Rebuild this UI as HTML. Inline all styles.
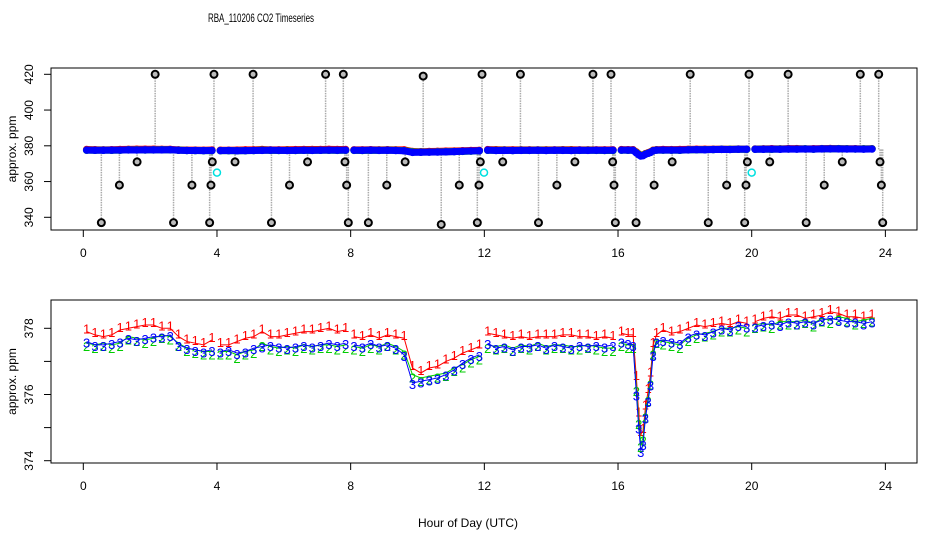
<!DOCTYPE html>
<html><head><meta charset="utf-8"><style>
html,body{margin:0;padding:0;background:#fff;}
svg{display:block;font-family:"Liberation Sans",sans-serif;}
</style></head><body>
<svg id="chart" width="936" height="540" viewBox="0 0 936 540" xmlns="http://www.w3.org/2000/svg">
<text x="261" y="22" text-anchor="middle" font-size="12" textLength="106" lengthAdjust="spacingAndGlyphs">RBA_110206  CO2 Timeseries</text>
<text x="468" y="527" text-anchor="middle" font-size="12">Hour of Day (UTC)</text>
<g id="topPanel"></g>
<g id="botPanel"></g>
</svg>
<script>
const hours = [0.1,0.35,0.6,0.85,1.1,1.35,1.6,1.85,2.1,2.35,2.6,2.85,3.1,3.35,3.6,3.85,
4.1,4.35,4.6,4.85,5.1,5.35,5.6,5.85,6.1,6.35,6.6,6.85,7.1,7.35,7.6,7.85,
8.1,8.35,8.6,8.85,9.1,9.35,9.6,9.85,10.1,10.35,10.6,10.85,11.1,11.35,11.6,11.85,
12.1,12.35,12.6,12.85,13.1,13.35,13.6,13.85,14.1,14.35,14.6,14.85,15.1,15.35,15.6,15.85,
16.1,16.3,16.45,16.55,16.62,16.68,16.75,16.82,16.9,16.97,17.05,17.15,17.35,17.6,17.85,18.1,18.35,18.6,18.85,19.1,19.35,19.6,19.85,
20.1,20.35,20.6,20.85,21.1,21.35,21.6,21.85,22.1,22.35,22.6,22.85,23.1,23.35,23.6];
const series1 = [377.9,377.8,377.75,377.8,377.95,378.0,378.05,378.1,378.1,378.0,378.0,377.75,377.6,377.55,377.5,377.65,
377.5,377.5,377.6,377.7,377.75,377.9,377.75,377.75,377.8,377.85,377.9,377.9,377.95,378.0,377.9,377.95,
377.75,377.7,377.8,377.7,377.8,377.75,377.7,376.8,376.65,376.8,376.85,377.0,377.1,377.25,377.35,377.45,
377.85,377.8,377.75,377.7,377.75,377.7,377.75,377.75,377.75,377.8,377.8,377.75,377.75,377.7,377.75,377.7,
377.85,377.8,377.8,376.5,375.4,374.8,374.9,375.6,376.1,376.6,377.5,377.8,377.95,377.85,377.9,378.0,378.1,378.05,378.1,378.15,378.1,378.2,378.15,
378.2,378.3,378.35,378.3,378.4,378.4,378.3,378.35,378.4,378.5,378.45,378.35,378.35,378.3,378.35];
const series2 = [377.55,377.5,377.55,377.5,377.55,377.75,377.7,377.65,377.7,377.8,377.75,377.55,377.4,377.35,377.3,377.3,
377.3,377.3,377.2,377.3,377.35,377.55,377.45,377.4,377.45,377.4,377.5,377.45,377.5,377.5,377.45,377.5,
377.45,377.4,377.5,377.45,377.55,377.45,377.3,376.6,376.5,376.55,376.6,376.65,376.8,376.9,377.05,377.15,
377.5,377.45,377.5,377.4,377.5,377.45,377.55,377.45,377.5,377.5,377.45,377.45,377.5,377.45,377.4,377.4,
377.55,377.5,377.5,376.2,375.2,374.5,374.7,375.4,375.9,376.4,377.3,377.65,377.6,377.55,377.5,377.7,377.8,377.85,377.9,378.0,378.0,378.05,378.0,
378.1,378.15,378.1,378.2,378.2,378.2,378.25,378.15,378.3,378.25,378.35,378.3,378.2,378.25,378.3];
const series3 = [377.6,377.5,377.5,377.55,377.6,377.7,377.65,377.7,377.75,377.75,377.8,377.5,377.4,377.35,377.3,377.35,
377.3,377.35,377.25,377.3,377.4,377.45,377.5,377.45,377.4,377.45,377.5,377.45,377.5,377.55,377.5,377.55,
377.5,377.45,377.55,377.45,377.5,377.4,377.2,376.35,376.4,376.45,376.5,376.6,376.75,376.95,377.1,377.2,
377.55,377.4,377.45,377.35,377.45,377.45,377.5,377.4,377.5,377.45,377.4,377.5,377.45,377.5,377.45,377.5,
377.6,377.55,377.5,376.0,375.0,374.3,374.5,375.3,375.8,376.3,377.2,377.6,377.65,377.6,377.55,377.75,377.85,377.8,377.9,378.0,377.95,378.1,378.05,
378.05,378.1,378.15,378.1,378.2,378.15,378.2,378.15,378.25,378.3,378.25,378.2,378.2,378.15,378.2];
const outlierHours = [0.54,1.08,1.61,2.15,2.70,3.25,3.78,3.82,3.86,3.91,4.54,5.08,5.63,6.17,6.71,7.25,7.78,7.83,7.88,7.93,8.53,9.08,9.63,10.17,10.71,11.25,11.79,11.84,11.88,11.93,12.55,13.08,13.62,14.17,14.71,15.25,15.79,15.84,15.88,15.92,16.54,17.08,17.62,18.16,18.70,19.25,19.79,19.83,19.87,19.92,20.54,21.09,21.63,22.17,22.71,23.25,23.80,23.84,23.88,23.92];
const outlierValues = [337,358,371,420,337,358,337,358,371,420,371,420,337,358,371,420,420,371,358,337,337,358,371,419,336,358,337,358,371,420,371,420,337,358,371,420,420,371,358,337,337,358,371,420,337,358,337,358,371,420,371,420,337,358,371,420,420,371,358,337];
const cyanHours = [4.0,11.99,20.0];
const cyanValues = [365,365,365];
const xTicks = [0,4,8,12,16,20,24];
const topYTicks = [340,360,380,400,420];
const botYTicks = [374,375,376,377,378];
const botYLabels = ["374","","376","","378"];

const NS="http://www.w3.org/2000/svg";
function mk(parent,tag,attrs){const e=document.createElementNS(NS,tag);for(const k in attrs)e.setAttribute(k,attrs[k]);parent.appendChild(e);return e;}
const X0=51,X1=917;
const xs=h=>83.3+h*33.42;
const yTop=v=>145.8-(v-380)*1.7875;
const yBot=v=>328.3-(v-378)*33.1;
const topG=document.getElementById('topPanel'), botG=document.getElementById('botPanel');

function segments(){
  const segs=[];let cur=[0];
  for(let i=1;i<hours.length;i++){if(Math.floor(hours[i]/4)!==Math.floor(hours[i-1]/4)){segs.push(cur);cur=[];}cur.push(i);}
  segs.push(cur);return segs;
}
function axes(g,yT,ymap,yLabels,boxTop,boxBot,name){
  const r=mk(g,'rect',{x:X0,y:boxTop,width:X1-X0,height:boxBot-boxTop,fill:'none',stroke:'#000','stroke-width':1});
  
  
  const ax=mk(g,'line',{x1:xs(xTicks[0]),x2:xs(xTicks[xTicks.length-1]),y1:boxBot,y2:boxBot,stroke:'#000'});
  
  
  xTicks.forEach(t=>{
    mk(g,'line',{x1:xs(t),x2:xs(t),y1:boxBot,y2:boxBot+7,stroke:'#000'});
    const tx=mk(g,'text',{x:xs(t),y:boxBot+27,'text-anchor':'middle','font-size':12});
    tx.textContent=t;
    
    
  });
  const ay=mk(g,'line',{x1:X0,x2:X0,y1:ymap(yT[0]),y2:ymap(yT[yT.length-1]),stroke:'#000'});
  
  
  yT.forEach((t,i)=>{
    const y=ymap(t);
    mk(g,'line',{x1:X0-7,x2:X0,y1:y,y2:y,stroke:'#000'});
    if(yLabels[i]){
      const tx=mk(g,'text',{x:33,y:y,'text-anchor':'middle','font-size':12,transform:`rotate(-90 33 ${y})`});
      tx.textContent=yLabels[i];
      
      
    }
  });
  const cy=(boxTop+boxBot)/2;
  const yt=mk(g,'text',{x:16,y:cy,'text-anchor':'middle','font-size':12,transform:`rotate(-90 16 ${cy})`});
  yt.textContent='approx. ppm';
  
  
}

// TOP PANEL
axes(topG,topYTicks,yTop,topYTicks.map(String),68,230,'top');
outlierHours.forEach((h,i)=>{
  const ln=mk(topG,'line',{x1:xs(h),x2:xs(h),y1:yTop(378),y2:yTop(outlierValues[i]),stroke:'#aaa','stroke-dasharray':'1.5,1','stroke-width':1.5});
  
  
});
const segs=segments();
[['#ff0000',series1],['#00cc00',series2],['#0000ff',series3]].forEach(([c,s])=>{
  segs.forEach(sg=>{
    const pl=mk(topG,'polyline',{points:sg.map(i=>xs(hours[i])+','+yTop(s[i])).join(' '),fill:'none',stroke:c,'stroke-width':7,'stroke-linecap':'round'});
    
    
  });
  s.forEach((v,i)=>{
    const ci=mk(topG,'circle',{cx:xs(hours[i]),cy:yTop(v),r:3,fill:'none',stroke:c,'stroke-width':1.5});
    
    
  });
});
outlierHours.forEach((h,i)=>{
  const ci=mk(topG,'circle',{cx:xs(h),cy:yTop(outlierValues[i]),r:3.5,fill:'#bbb',stroke:'#000','stroke-width':2});
  
  
});
cyanHours.forEach((h,i)=>{
  const ci=mk(topG,'circle',{cx:xs(h),cy:yTop(cyanValues[i]),r:3.5,fill:'none',stroke:'#00e0e0','stroke-width':1.5});
  
  
});

// BOTTOM PANEL
axes(botG,botYTicks,yBot,botYLabels,300,463,'bottom');
[['#ff0000',series1,'1',-3],['#00cc00',series2,'2',3],['#0000ff',series3,'3',1]].forEach(([c,s,lab,dy])=>{
  segs.forEach(sg=>{
    const pl=mk(botG,'polyline',{points:sg.map(i=>xs(hours[i])+','+yBot(s[i])).join(' '),fill:'none',stroke:c,'stroke-width':1});
    
    
  });
  s.forEach((v,i)=>{
    const t=mk(botG,'text',{x:xs(hours[i]),y:yBot(v)+5+dy,'text-anchor':'middle','font-size':13,fill:c});
    t.textContent=lab;
    
    
  });
});
</script>
</body></html>
